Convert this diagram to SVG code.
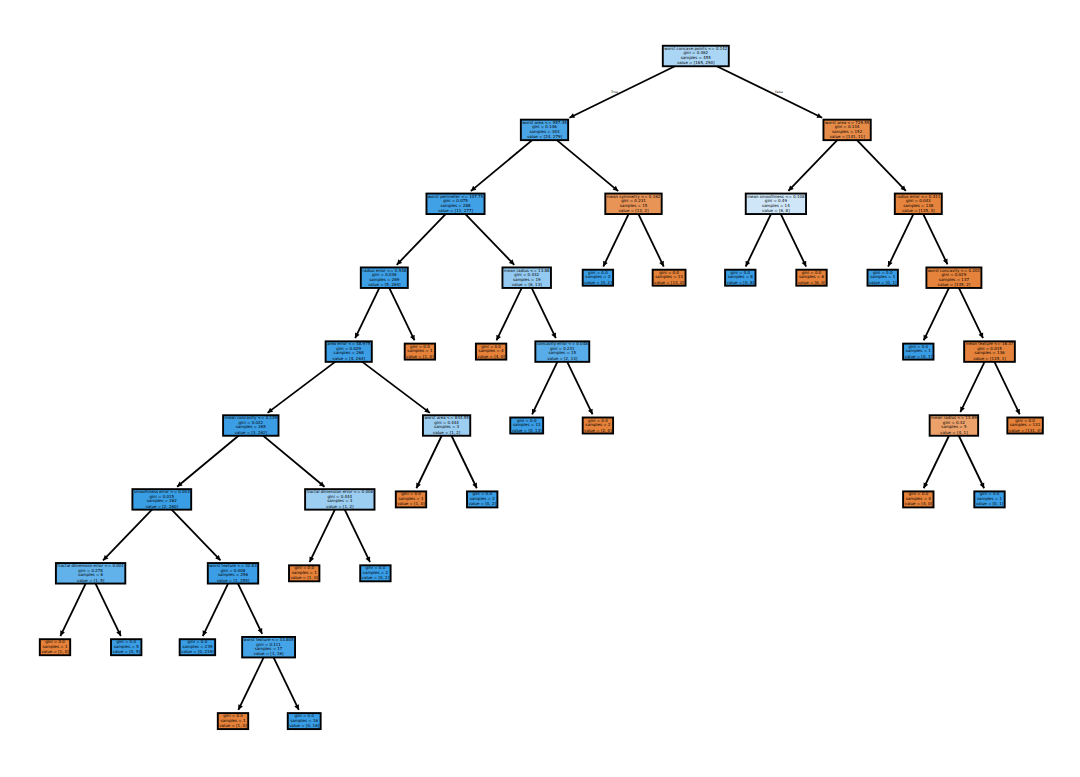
<svg xmlns="http://www.w3.org/2000/svg" width="1080" height="777" viewBox="0 0 1080 777">
<style>
.n rect{stroke:#000;stroke-width:1.9}
.n text{font-family:"DejaVu Sans","Liberation Sans",sans-serif;font-size:4px;text-anchor:middle;fill:#000}
.e line{stroke:#000;stroke-width:1.8;marker-end:url(#ah)}
.lbl{font-family:"DejaVu Sans","Liberation Sans",sans-serif;font-size:3.2px;text-anchor:middle;fill:#000}
.o{fill:#e58139}.b{fill:#399de5}
</style>
<defs>
<marker id="ah" markerUnits="userSpaceOnUse" markerWidth="6" markerHeight="6" viewBox="-4 -2 4 4" refX="0" refY="0" orient="auto">
<path d="M0,0 L-3.4,-1.7 L-3.4,1.7 Z" fill="#000"/>
</marker>
</defs>
<rect width="1080" height="777" fill="#fff"/>
<g id="connectors" class="e">
<line x1="695.8" y1="56" x2="569.45" y2="117.71"/>
<line x1="695.8" y1="56" x2="822.15" y2="117.71"/>
<line x1="544.5" y1="129.9" x2="470.81" y2="191.09"/>
<line x1="544.5" y1="129.9" x2="618.19" y2="191.09"/>
<line x1="847.1" y1="129.9" x2="788.35" y2="190.88"/>
<line x1="847.1" y1="129.9" x2="905.85" y2="190.88"/>
<line x1="455.5" y1="203.8" x2="396.75" y2="264.78"/>
<line x1="455.5" y1="203.8" x2="514.25" y2="264.78"/>
<line x1="633.5" y1="203.8" x2="603.27" y2="266.56"/>
<line x1="633.5" y1="203.8" x2="663.73" y2="266.56"/>
<line x1="775.9" y1="203.8" x2="745.67" y2="266.56"/>
<line x1="775.9" y1="203.8" x2="806.13" y2="266.56"/>
<line x1="918.3" y1="203.8" x2="888.07" y2="266.56"/>
<line x1="918.3" y1="203.8" x2="947.45" y2="264.31"/>
<line x1="384.3" y1="277.7" x2="355.15" y2="338.21"/>
<line x1="384.3" y1="277.7" x2="414.53" y2="340.46"/>
<line x1="526.7" y1="277.7" x2="496.47" y2="340.46"/>
<line x1="526.7" y1="277.7" x2="555.85" y2="338.21"/>
<line x1="953.9" y1="277.7" x2="923.67" y2="340.46"/>
<line x1="953.9" y1="277.7" x2="983.05" y2="338.21"/>
<line x1="348.7" y1="351.6" x2="267.51" y2="412.88"/>
<line x1="348.7" y1="351.6" x2="429.89" y2="412.88"/>
<line x1="562.3" y1="351.6" x2="532.07" y2="414.36"/>
<line x1="562.3" y1="351.6" x2="592.53" y2="414.36"/>
<line x1="989.5" y1="351.6" x2="960.35" y2="412.11"/>
<line x1="989.5" y1="351.6" x2="1019.73" y2="414.36"/>
<line x1="250.8" y1="425.5" x2="177.11" y2="486.69"/>
<line x1="250.8" y1="425.5" x2="324.49" y2="486.69"/>
<line x1="446.6" y1="425.5" x2="416.37" y2="488.26"/>
<line x1="446.6" y1="425.5" x2="476.83" y2="488.26"/>
<line x1="953.9" y1="425.5" x2="923.67" y2="488.26"/>
<line x1="953.9" y1="425.5" x2="984.13" y2="488.26"/>
<line x1="161.8" y1="499.4" x2="103.05" y2="560.38"/>
<line x1="161.8" y1="499.4" x2="220.55" y2="560.38"/>
<line x1="339.8" y1="499.4" x2="309.57" y2="562.16"/>
<line x1="339.8" y1="499.4" x2="370.03" y2="562.16"/>
<line x1="90.6" y1="573.3" x2="60.37" y2="636.06"/>
<line x1="90.6" y1="573.3" x2="120.83" y2="636.06"/>
<line x1="233" y1="573.3" x2="202.77" y2="636.06"/>
<line x1="233" y1="573.3" x2="262.15" y2="633.81"/>
<line x1="268.6" y1="647.2" x2="238.37" y2="709.96"/>
<line x1="268.6" y1="647.2" x2="298.83" y2="709.96"/>
</g>
<text class="lbl" x="614.5" y="93">True</text>
<text class="lbl" x="779" y="93">False</text>

<g id="n0" class="n" transform="translate(695.8,56)"><rect x="-33" y="-10.25" width="66" height="20.5" fill="#aad5f4"/><text y="-6.2">worst concave points &lt;= 0.142</text><text y="-1.7">gini = 0.462</text><text y="2.8">samples = 455</text><text y="8.3">value = [165, 290]</text></g>
<g id="n1" class="n" transform="translate(544.5,129.9)"><rect x="-23.65" y="-10.25" width="47.3" height="20.5" fill="#4aa5e7"/><text y="-6.2">worst area &lt;= 957.45</text><text y="-1.7">gini = 0.146</text><text y="2.8">samples = 303</text><text y="8.3">value = [24, 279]</text></g>
<g id="n2" class="n" transform="translate(847.1,129.9)"><rect x="-23.65" y="-10.25" width="47.3" height="20.5" fill="#e78b48"/><text y="-6.2">worst area &lt;= 729.55</text><text y="-1.7">gini = 0.134</text><text y="2.8">samples = 152</text><text y="8.3">value = [141, 11]</text></g>
<g id="n3" class="n" transform="translate(455.5,203.8)"><rect x="-29.05" y="-10.25" width="58.1" height="20.5" fill="#41a1e6"/><text y="-6.2">worst perimeter &lt;= 107.75</text><text y="-1.7">gini = 0.075</text><text y="2.8">samples = 288</text><text y="8.3">value = [11, 277]</text></g>
<g id="n4" class="n" transform="translate(633.5,203.8)"><rect x="-28.2" y="-10.25" width="56.4" height="20.5" fill="#e99457"/><text y="-6.2">mean symmetry &lt;= 0.162</text><text y="-1.7">gini = 0.231</text><text y="2.8">samples = 15</text><text y="8.3">value = [13, 2]</text></g>
<g id="n5" class="n" transform="translate(775.9,203.8)"><rect x="-30.15" y="-10.25" width="60.3" height="20.5" fill="#cee6f8"/><text y="-6.2">mean smoothness &lt;= 0.108</text><text y="-1.7">gini = 0.49</text><text y="2.8">samples = 14</text><text y="8.3">value = [6, 8]</text></g>
<g id="n6" class="n" transform="translate(918.3,203.8)"><rect x="-23.5" y="-10.25" width="47" height="20.5" fill="#e6843d"/><text y="-6.2">radius error &lt;= 0.411</text><text y="-1.7">gini = 0.043</text><text y="2.8">samples = 138</text><text y="8.3">value = [135, 3]</text></g>
<g id="n7" class="n" transform="translate(384.3,277.7)"><rect x="-23.5" y="-10.25" width="47" height="20.5" fill="#3d9fe5"/><text y="-6.2">radius error &lt;= 0.548</text><text y="-1.7">gini = 0.036</text><text y="2.8">samples = 269</text><text y="8.3">value = [5, 264]</text></g>
<g id="n8" class="n" transform="translate(526.7,277.7)"><rect x="-24.25" y="-10.25" width="48.5" height="20.5" fill="#94caf1"/><text y="-6.2">mean radius &lt;= 13.88</text><text y="-1.7">gini = 0.432</text><text y="2.8">samples = 19</text><text y="8.3">value = [6, 13]</text></g>
<g id="n9" class="n" transform="translate(597.9,277.7)"><rect class="b" x="-15.2" y="-8" width="30.4" height="16"/><text y="-4">gini = 0.0</text><text y="0.5">samples = 2</text><text y="6">value = [0, 2]</text></g>
<g id="n10" class="n" transform="translate(669.1,277.7)"><rect class="o" x="-16.45" y="-8" width="32.9" height="16"/><text y="-4">gini = 0.0</text><text y="0.5">samples = 13</text><text y="6">value = [13, 0]</text></g>
<g id="n11" class="n" transform="translate(740.3,277.7)"><rect class="b" x="-15.2" y="-8" width="30.4" height="16"/><text y="-4">gini = 0.0</text><text y="0.5">samples = 8</text><text y="6">value = [0, 8]</text></g>
<g id="n12" class="n" transform="translate(811.5,277.7)"><rect class="o" x="-15.2" y="-8" width="30.4" height="16"/><text y="-4">gini = 0.0</text><text y="0.5">samples = 6</text><text y="6">value = [6, 0]</text></g>
<g id="n13" class="n" transform="translate(882.7,277.7)"><rect class="b" x="-15.2" y="-8" width="30.4" height="16"/><text y="-4">gini = 0.0</text><text y="0.5">samples = 1</text><text y="6">value = [0, 1]</text></g>
<g id="n14" class="n" transform="translate(953.9,277.7)"><rect x="-27.5" y="-10.25" width="55" height="20.5" fill="#e5833c"/><text y="-6.2">worst concavity &lt;= 0.201</text><text y="-1.7">gini = 0.029</text><text y="2.8">samples = 137</text><text y="8.3">value = [135, 2]</text></g>
<g id="n15" class="n" transform="translate(348.7,351.6)"><rect x="-23.1" y="-10.25" width="46.2" height="20.5" fill="#3c9ee5"/><text y="-6.2">area error &lt;= 48.975</text><text y="-1.7">gini = 0.029</text><text y="2.8">samples = 268</text><text y="8.3">value = [4, 264]</text></g>
<g id="n16" class="n" transform="translate(419.9,351.6)"><rect class="o" x="-15.2" y="-8" width="30.4" height="16"/><text y="-4">gini = 0.0</text><text y="0.5">samples = 1</text><text y="6">value = [1, 0]</text></g>
<g id="n17" class="n" transform="translate(491.1,351.6)"><rect class="o" x="-15.2" y="-8" width="30.4" height="16"/><text y="-4">gini = 0.0</text><text y="0.5">samples = 4</text><text y="6">value = [4, 0]</text></g>
<g id="n18" class="n" transform="translate(562.3,351.6)"><rect x="-26.95" y="-10.25" width="53.9" height="20.5" fill="#58ace9"/><text y="-6.2">concavity error &lt;= 0.048</text><text y="-1.7">gini = 0.231</text><text y="2.8">samples = 15</text><text y="8.3">value = [2, 13]</text></g>
<g id="n19" class="n" transform="translate(918.3,351.6)"><rect class="b" x="-15.2" y="-8" width="30.4" height="16"/><text y="-4">gini = 0.0</text><text y="0.5">samples = 1</text><text y="6">value = [0, 1]</text></g>
<g id="n20" class="n" transform="translate(989.5,351.6)"><rect x="-25.35" y="-10.25" width="50.7" height="20.5" fill="#e5823b"/><text y="-6.2">mean texture &lt;= 16.37</text><text y="-1.7">gini = 0.015</text><text y="2.8">samples = 136</text><text y="8.3">value = [135, 1]</text></g>
<g id="n21" class="n" transform="translate(250.8,425.5)"><rect x="-27.7" y="-10.25" width="55.4" height="20.5" fill="#3b9ee5"/><text y="-6.2">mean concavity &lt;= 0.139</text><text y="-1.7">gini = 0.022</text><text y="2.8">samples = 265</text><text y="8.3">value = [3, 262]</text></g>
<g id="n22" class="n" transform="translate(446.6,425.5)"><rect x="-23.65" y="-10.25" width="47.3" height="20.5" fill="#9ccef2"/><text y="-6.2">worst area &lt;= 844.55</text><text y="-1.7">gini = 0.444</text><text y="2.8">samples = 3</text><text y="8.3">value = [1, 2]</text></g>
<g id="n23" class="n" transform="translate(526.7,425.5)"><rect class="b" x="-16.45" y="-8" width="32.9" height="16"/><text y="-4">gini = 0.0</text><text y="0.5">samples = 13</text><text y="6">value = [0, 13]</text></g>
<g id="n24" class="n" transform="translate(597.9,425.5)"><rect class="o" x="-15.2" y="-8" width="30.4" height="16"/><text y="-4">gini = 0.0</text><text y="0.5">samples = 2</text><text y="6">value = [2, 0]</text></g>
<g id="n25" class="n" transform="translate(953.9,425.5)"><rect x="-24.25" y="-10.25" width="48.5" height="20.5" fill="#eca06a"/><text y="-6.2">mean radius &lt;= 13.89</text><text y="-1.7">gini = 0.32</text><text y="2.8">samples = 5</text><text y="8.3">value = [4, 1]</text></g>
<g id="n26" class="n" transform="translate(1025.1,425.5)"><rect class="o" x="-17.75" y="-8" width="35.5" height="16"/><text y="-4">gini = 0.0</text><text y="0.5">samples = 131</text><text y="6">value = [131, 0]</text></g>
<g id="n27" class="n" transform="translate(161.8,499.4)"><rect x="-29.4" y="-10.25" width="58.8" height="20.5" fill="#3a9ee5"/><text y="-6.2">smoothness error &lt;= 0.003</text><text y="-1.7">gini = 0.015</text><text y="2.8">samples = 262</text><text y="8.3">value = [2, 260]</text></g>
<g id="n28" class="n" transform="translate(339.8,499.4)"><rect x="-34.7" y="-10.25" width="69.4" height="20.5" fill="#9ccef2"/><text y="-6.2">fractal dimension error &lt;= 0.006</text><text y="-1.7">gini = 0.444</text><text y="2.8">samples = 3</text><text y="8.3">value = [1, 2]</text></g>
<g id="n29" class="n" transform="translate(411,499.4)"><rect class="o" x="-15.2" y="-8" width="30.4" height="16"/><text y="-4">gini = 0.0</text><text y="0.5">samples = 1</text><text y="6">value = [1, 0]</text></g>
<g id="n30" class="n" transform="translate(482.2,499.4)"><rect class="b" x="-15.2" y="-8" width="30.4" height="16"/><text y="-4">gini = 0.0</text><text y="0.5">samples = 2</text><text y="6">value = [0, 2]</text></g>
<g id="n31" class="n" transform="translate(918.3,499.4)"><rect class="o" x="-15.2" y="-8" width="30.4" height="16"/><text y="-4">gini = 0.0</text><text y="0.5">samples = 4</text><text y="6">value = [4, 0]</text></g>
<g id="n32" class="n" transform="translate(989.5,499.4)"><rect class="b" x="-15.2" y="-8" width="30.4" height="16"/><text y="-4">gini = 0.0</text><text y="0.5">samples = 1</text><text y="6">value = [0, 1]</text></g>
<g id="n33" class="n" transform="translate(90.6,573.3)"><rect x="-34.7" y="-10.25" width="69.4" height="20.5" fill="#61b1ea"/><text y="-6.2">fractal dimension error &lt;= 0.001</text><text y="-1.7">gini = 0.278</text><text y="2.8">samples = 6</text><text y="8.3">value = [1, 5]</text></g>
<g id="n34" class="n" transform="translate(233,573.3)"><rect x="-25.2" y="-10.25" width="50.4" height="20.5" fill="#3a9de5"/><text y="-6.2">worst texture &lt;= 32.83</text><text y="-1.7">gini = 0.008</text><text y="2.8">samples = 256</text><text y="8.3">value = [1, 255]</text></g>
<g id="n35" class="n" transform="translate(304.2,573.3)"><rect class="o" x="-15.2" y="-8" width="30.4" height="16"/><text y="-4">gini = 0.0</text><text y="0.5">samples = 1</text><text y="6">value = [1, 0]</text></g>
<g id="n36" class="n" transform="translate(375.4,573.3)"><rect class="b" x="-15.2" y="-8" width="30.4" height="16"/><text y="-4">gini = 0.0</text><text y="0.5">samples = 2</text><text y="6">value = [0, 2]</text></g>
<g id="n37" class="n" transform="translate(55,647.2)"><rect class="o" x="-15.2" y="-8" width="30.4" height="16"/><text y="-4">gini = 0.0</text><text y="0.5">samples = 1</text><text y="6">value = [1, 0]</text></g>
<g id="n38" class="n" transform="translate(126.2,647.2)"><rect class="b" x="-15.2" y="-8" width="30.4" height="16"/><text y="-4">gini = 0.0</text><text y="0.5">samples = 5</text><text y="6">value = [0, 5]</text></g>
<g id="n39" class="n" transform="translate(197.4,647.2)"><rect class="b" x="-17.75" y="-8" width="35.5" height="16"/><text y="-4">gini = 0.0</text><text y="0.5">samples = 239</text><text y="6">value = [0, 239]</text></g>
<g id="n40" class="n" transform="translate(268.6,647.2)"><rect x="-26.45" y="-10.25" width="52.9" height="20.5" fill="#45a3e7"/><text y="-6.2">worst texture &lt;= 33.805</text><text y="-1.7">gini = 0.111</text><text y="2.8">samples = 17</text><text y="8.3">value = [1, 16]</text></g>
<g id="n41" class="n" transform="translate(233,721.1)"><rect class="o" x="-15.2" y="-8" width="30.4" height="16"/><text y="-4">gini = 0.0</text><text y="0.5">samples = 1</text><text y="6">value = [1, 0]</text></g>
<g id="n42" class="n" transform="translate(304.2,721.1)"><rect class="b" x="-16.45" y="-8" width="32.9" height="16"/><text y="-4">gini = 0.0</text><text y="0.5">samples = 16</text><text y="6">value = [0, 16]</text></g>
</svg>
